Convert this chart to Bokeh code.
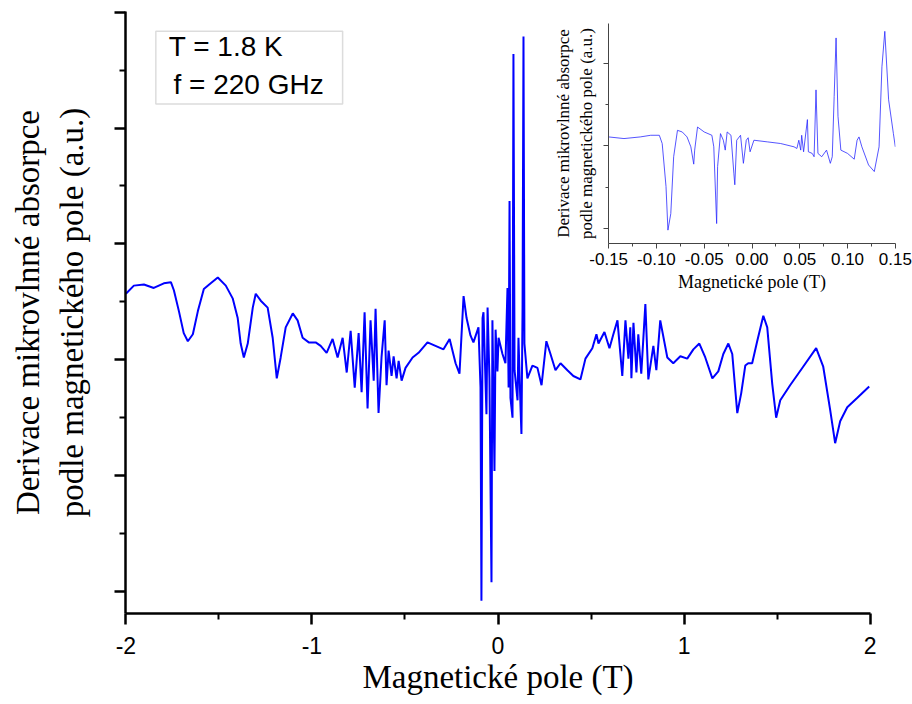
from bokeh.plotting import figure
from bokeh.models import Range1d, FixedTicker, BoxAnnotation, Label
from bokeh.embed import file_html
from bokeh.resources import INLINE

# ---------------- main spectrum (field in T, derivative signal in a.u.) ----------------
field_T = [-2.000, -1.957, -1.903, -1.850, -1.796, -1.758, -1.742, -1.715, -1.689, -1.667,
           -1.640, -1.613, -1.581, -1.544, -1.506, -1.463, -1.426, -1.399, -1.383, -1.366,
           -1.345, -1.318, -1.302, -1.275, -1.238, -1.211, -1.189, -1.168, -1.141, -1.103,
           -1.077, -1.050, -1.017,
           -0.980, -0.953, -0.921, -0.889, -0.862, -0.835, -0.813, -0.792, -0.770, -0.749,
           -0.733, -0.717, -0.701, -0.685, -0.668, -0.658, -0.642, -0.626, -0.609, -0.599,
           -0.588, -0.572, -0.561, -0.545, -0.534, -0.518, -0.497, -0.459, -0.427, -0.379,
           -0.336, -0.293, -0.260, -0.228, -0.207, -0.185, -0.169, -0.148,
           -0.132, -0.105, -0.094, -0.089, -0.083, -0.078, -0.062, -0.056, -0.046, -0.035,
           -0.030, -0.019, -0.013, -0.003, 0.003, 0.024, 0.040, 0.051, 0.057, 0.062,
           0.067, 0.078, 0.083, 0.089, 0.105, 0.110, 0.121, 0.126, 0.132, 0.137,
           0.142, 0.158, 0.185, 0.212, 0.234, 0.260, 0.282, 0.309, 0.336, 0.373,
           0.405, 0.443, 0.470, 0.507, 0.529, 0.540, 0.572, 0.599, 0.620, 0.642,
           0.668, 0.685, 0.701, 0.711, 0.717, 0.728, 0.744, 0.754, 0.770, 0.792,
           0.808, 0.835, 0.851, 0.872, 0.910, 0.942, 0.980, 1.017, 1.050, 1.082,
           1.114, 1.152, 1.184, 1.211, 1.238, 1.259, 1.286, 1.307, 1.329, 1.345,
           1.366, 1.393, 1.426, 1.447, 1.474, 1.495, 1.517, 1.570, 1.640, 1.710,
           1.748, 1.785, 1.812, 1.839, 1.877, 1.930, 1.995]
signal = [2.57, 2.64, 2.65, 2.62, 2.66, 2.67, 2.60, 2.42, 2.23, 2.16,
          2.22, 2.42, 2.61, 2.66, 2.71, 2.64, 2.53, 2.36, 2.14, 2.02,
          2.14, 2.45, 2.57, 2.51, 2.45, 2.19, 1.84, 2.02, 2.28, 2.40,
          2.34, 2.19, 2.15,
          2.15, 2.12, 2.06, 2.18, 2.02, 2.19, 1.89, 2.25, 1.76, 2.23,
          1.72, 2.41, 1.58, 2.34, 1.82, 2.44, 1.54, 2.02, 2.34, 1.78,
          2.08, 1.86, 2.03, 1.84, 1.99, 1.82, 1.93, 2.02, 2.06, 2.15,
          2.12, 2.09, 2.18, 1.97, 1.88, 2.55, 2.36, 2.21,
          2.15, 2.28, 1.76, -0.08, 2.36, 2.41, 1.53, 2.45, 1.84, 0.08,
          2.34, 1.04, 2.26, 1.90, 2.19, 2.05, 1.97, 2.62, 1.76, 3.37,
          1.67, 1.50, 4.64, 1.91, 1.65, 2.19, 1.59, 1.36, 2.45, 4.79,
          2.14, 1.84, 1.95, 1.93, 1.78, 2.16, 2.05, 1.91, 1.97, 1.91,
          1.86, 1.83, 2.01, 2.10, 2.22, 2.14, 2.24, 2.10, 2.22, 2.34,
          1.86, 2.34, 2.01, 2.28, 1.84, 2.32, 1.89, 2.22, 1.88, 2.48,
          1.83, 2.12, 1.91, 2.34, 2.02, 1.97, 2.03, 2.01, 2.09, 2.14,
          2.02, 1.84, 1.90, 2.05, 2.14, 2.05, 1.54, 1.71, 1.95, 1.97,
          1.97, 2.16, 2.38, 2.28, 1.79, 1.50, 1.65, 1.78, 1.94, 2.10,
          1.94, 1.57, 1.28, 1.47, 1.59, 1.67, 1.77]

x_ticks = [-2, -1, 0, 1, 2]
x_tick_labels = ["-2", "-1", "0", "1", "2"]
x_minor_ticks = [-1.5, -0.5, 0.5, 1.5]
y_ticks = [0, 1, 2, 3, 4, 5]
y_minor_ticks = [0.5, 1.5, 2.5, 3.5, 4.5]

# ---------------- inset (zoom on low field) ----------------
inset_field_T = [-0.150, -0.134, -0.117, -0.106, -0.097, -0.094, -0.090, -0.088, -0.085, -0.082,
                 -0.078, -0.073, -0.068, -0.064, -0.061, -0.060, -0.057, -0.050, -0.042, -0.040,
                 -0.037, -0.036, -0.033, -0.030, -0.028, -0.026, -0.022, -0.019, -0.018, -0.016,
                 -0.012, -0.009, -0.006, -0.004, -0.002, 0.002, 0.016, 0.030, 0.044, 0.047,
                 0.049, 0.051, 0.052, 0.054, 0.058, 0.059, 0.063, 0.065, 0.067, 0.069,
                 0.073, 0.078, 0.082, 0.084, 0.086, 0.088, 0.090, 0.093, 0.100, 0.107,
                 0.110, 0.112, 0.115, 0.122, 0.128, 0.133, 0.136, 0.139, 0.143, 0.148,
                 0.150]
inset_signal = [0.11, 0.09, 0.11, 0.13, 0.13, 0.03, -0.49, -1.02, -0.82, -0.13,
                0.19, 0.17, 0.11, -0.01, -0.22, -0.05, 0.23, 0.17, 0.13, -0.01,
                -0.94, -0.25, 0.15, 0.07, -0.05, 0.17, 0.13, -0.33, -0.47, 0.07,
                0.13, -0.21, 0.07, 0.10, -0.07, 0.07, 0.05, 0.03, -0.01, -0.03,
                0.07, -0.05, 0.13, -0.07, 0.32, -0.07, -0.09, -0.13, 0.68, -0.09,
                -0.13, -0.05, -0.21, -0.13, 0.60, 1.31, 0.36, -0.05, -0.09, -0.16,
                0.07, 0.11, -0.01, -0.23, -0.31, -0.01, 0.96, 1.39, 0.56, 0.15,
                -0.01]

inset_x_ticks = [-0.15, -0.10, -0.05, 0.0, 0.05, 0.10, 0.15]
inset_x_tick_labels = ["-0.15", "-0.10", "-0.05", "0.00", "0.05", "0.10", "0.15"]
inset_x_minor_ticks = [-0.125, -0.075, -0.025, 0.025, 0.075, 0.125]
inset_y_ticks = [-1, 0, 1]
inset_y_minor_ticks = [-0.5, 0.5]

x_label = "Magnetické pole (T)"
y_label = "Derivace mikrovlnné absorpce\npodle magnetického pole (a.u.)"
note_line1 = "T = 1.8 K"
note_line2 = "f = 220 GHz"

SANS = "Liberation Sans"
SERIF = "Liberation Serif"

# ---------------- main figure ----------------
p = figure(width=912, height=704, title=None,
           x_range=Range1d(-2.002, 2.002), y_range=Range1d(-0.19, 5.006),
           output_backend="svg", toolbar_location=None,
           min_border_left=125, min_border_right=42,
           min_border_top=11, min_border_bottom=91)
p.outline_line_color = None
p.grid.visible = False
p.background_fill_color = "white"
p.border_fill_color = "white"

p.line(field_T, signal, line_color="#0000ff", line_width=2.0)

xa = p.xaxis[0]
ya = p.yaxis[0]
xa.ticker = FixedTicker(ticks=x_ticks, minor_ticks=x_minor_ticks)
xa.major_label_overrides = {t: lab for t, lab in zip(x_ticks, x_tick_labels)}
ya.ticker = FixedTicker(ticks=y_ticks, minor_ticks=y_minor_ticks)
for ax in (xa, ya):
    ax.axis_line_width = 2.5
    ax.axis_line_color = "black"
    ax.major_tick_line_width = 2.5
    ax.minor_tick_line_width = 2
    ax.major_tick_line_color = "black"
    ax.minor_tick_line_color = "black"
    ax.major_tick_out = 11
    ax.major_tick_in = 0
    ax.minor_tick_out = 6
    ax.minor_tick_in = 0
    ax.axis_label_text_font = SERIF
    ax.axis_label_text_font_size = "33px"
    ax.axis_label_text_font_style = "normal"
    ax.axis_label_text_color = "black"

xa.axis_label = x_label
xa.major_label_text_font = SANS
xa.major_label_text_font_size = "23px"
xa.major_label_text_color = "black"
xa.major_label_standoff = 12
xa.axis_label_standoff = 2

ya.axis_label = y_label
ya.major_label_text_font_size = "1px"
ya.major_label_text_color = None
ya.major_label_standoff = 0
ya.axis_label_standoff = 25

box = BoxAnnotation(left=-1.839, right=-0.835, top=4.836, bottom=4.207,
                    fill_color="white", fill_alpha=1.0,
                    line_color="#8c8c8c", line_width=1.5)
p.add_layout(box)
p.add_layout(Label(x=-1.769, y=4.700, text=note_line1, text_font=SANS,
                   text_font_size="28px", text_baseline="middle",
                   text_align="left", text_color="black"))
p.add_layout(Label(x=-1.744, y=4.380, text=note_line2, text_font=SANS,
                   text_font_size="28px", text_baseline="middle",
                   text_align="left", text_color="black"))

# ---------------- inset figure ----------------
inset = figure(width=372, height=300, title=None,
               x_range=Range1d(-0.1502, 0.1502), y_range=Range1d(-1.182, 1.485),
               output_backend="svg", toolbar_location=None,
               min_border_left=68, min_border_right=17,
               min_border_top=23, min_border_bottom=57)
inset.outline_line_color = None
inset.grid.visible = False
inset.background_fill_alpha = 0
inset.border_fill_alpha = 0
inset.styles = {"position": "absolute", "left": "540px", "top": "0px"}

inset.line(inset_field_T, inset_signal, line_color="#2a2aff", line_width=1, line_alpha=0.8)

ixa = inset.xaxis[0]
iya = inset.yaxis[0]
ixa.ticker = FixedTicker(ticks=inset_x_ticks, minor_ticks=inset_x_minor_ticks)
iya.ticker = FixedTicker(ticks=inset_y_ticks, minor_ticks=inset_y_minor_ticks)
ixa.major_label_overrides = {t: lab for t, lab in zip(inset_x_ticks, inset_x_tick_labels)}
for ax in (ixa, iya):
    ax.axis_line_width = 1
    ax.axis_line_color = "#444444"
    ax.major_tick_line_color = "#444444"
    ax.minor_tick_line_color = "#444444"
    ax.major_tick_out = 5
    ax.major_tick_in = 0
    ax.minor_tick_out = 3
    ax.minor_tick_in = 0
    ax.axis_label_text_font = SERIF
    ax.axis_label_text_font_style = "normal"
    ax.axis_label_text_color = "black"
ixa.axis_label = x_label
ixa.axis_label_text_font_size = "18px"
ixa.major_label_text_font = SANS
ixa.major_label_text_font_size = "17px"
ixa.major_label_text_color = "black"
ixa.major_label_standoff = 4
ixa.axis_label_standoff = 4

iya.axis_label = y_label
iya.axis_label_text_font_size = "17px"
iya.major_label_text_font_size = "1px"
iya.major_label_text_color = None
iya.major_label_standoff = 0
iya.axis_label_standoff = 8

open("out.html", "w").write(file_html([p, inset], INLINE))
